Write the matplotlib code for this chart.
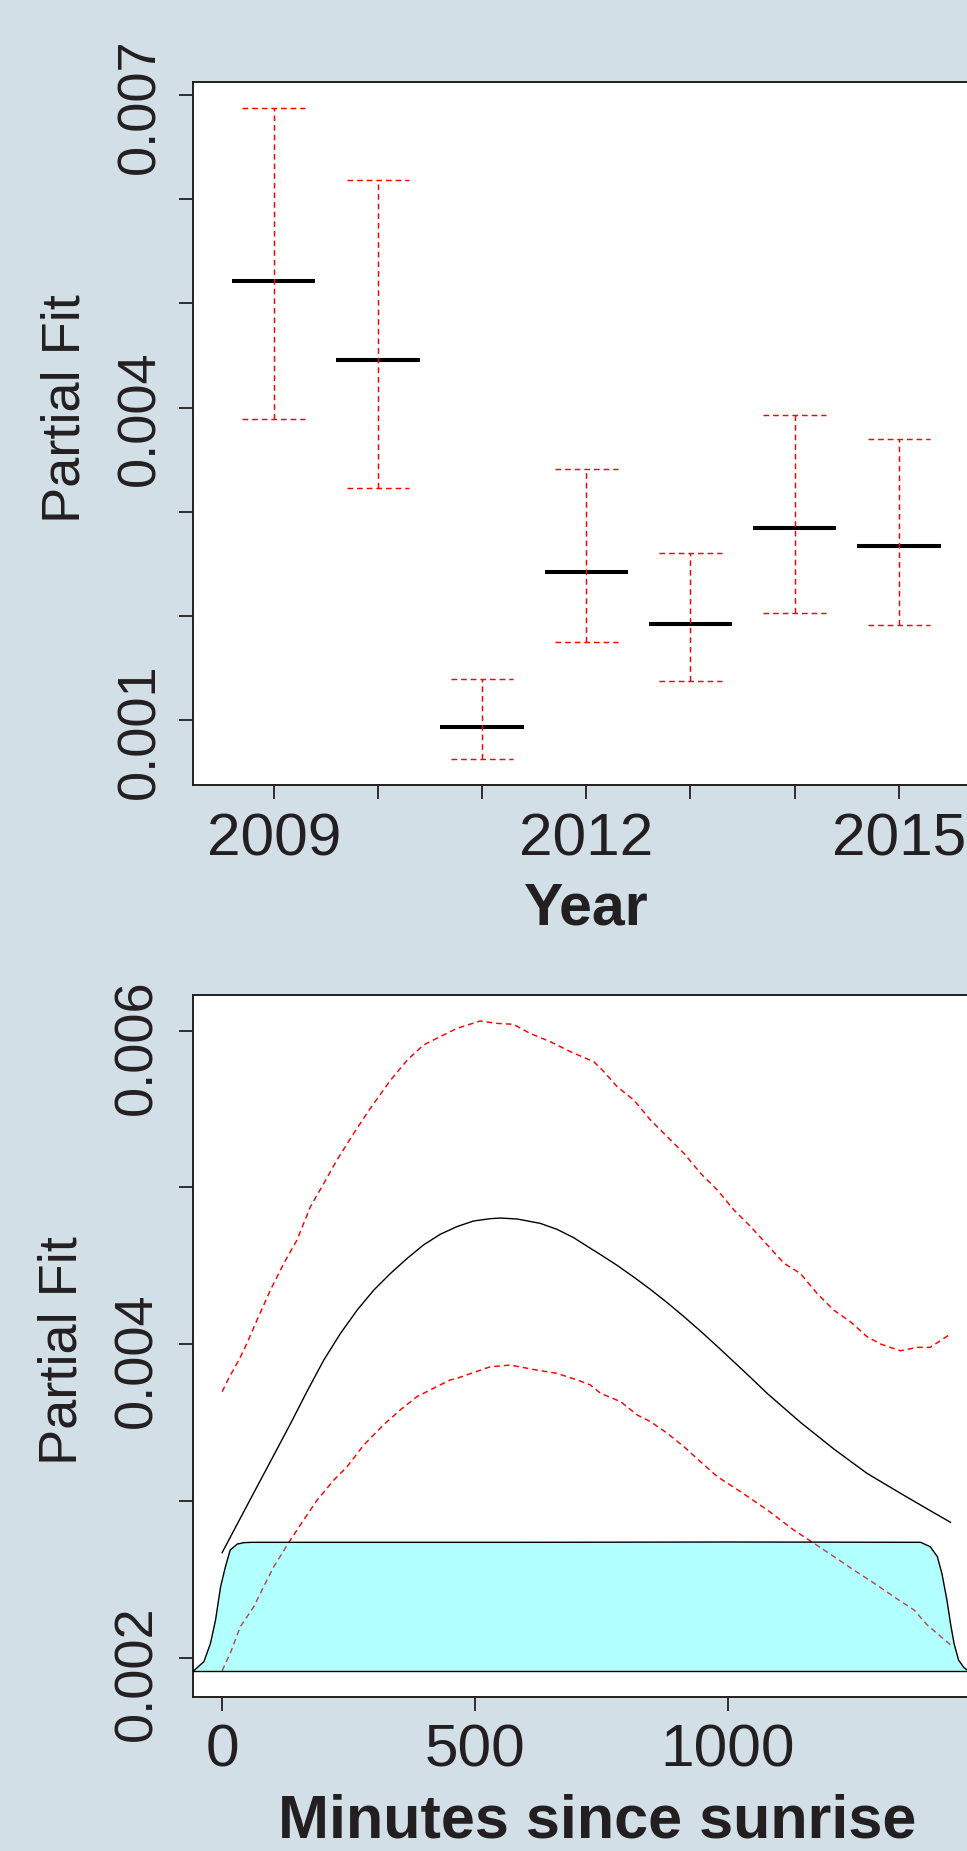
import matplotlib
matplotlib.use("Agg")
import matplotlib.pyplot as plt
from matplotlib.transforms import ScaledTranslation

# ---------------- data ----------------
years = [2009, 2010, 2011, 2012, 2013, 2014, 2015]
year_fit = [0.005212, 0.004457, 0.000934, 0.002424, 0.001922, 0.002844, 0.002673]
year_upper = [0.006878, 0.006184, 0.001397, 0.003407, 0.002606, 0.003926, 0.003699]
year_lower = [0.003891, 0.003230, 0.000625, 0.001745, 0.001370, 0.002027, 0.001911]
year_ticks = [2009, 2010, 2011, 2012, 2013, 2014, 2015]
year_ticklabels = ["2009", "", "", "2012", "", "", "2015"]
top_yticks = [0.001, 0.002, 0.003, 0.004, 0.005, 0.006, 0.007]
top_yticklabels = ["0.001", "", "", "0.004", "", "", "0.007"]

fit_x = [0, 36, 69, 102, 135, 168, 201, 234, 267, 300, 333, 366, 398, 431, 464,
         497, 530, 550, 583, 629, 662, 695, 728, 748, 781, 814, 847, 880, 913,
         946, 979, 1012, 1045, 1078, 1144, 1210, 1275, 1341, 1407, 1440]
fit_y = [0.002670, 0.002890, 0.003091, 0.003291, 0.003492, 0.003700, 0.003899,
         0.004069, 0.004218, 0.004346, 0.004452, 0.004548, 0.004633, 0.004701,
         0.004750, 0.004786, 0.004801, 0.004805, 0.004799, 0.004771, 0.004733,
         0.004680, 0.004612, 0.004572, 0.004503, 0.004428, 0.004349, 0.004265,
         0.004176, 0.004083, 0.003986, 0.003887, 0.003787, 0.003685, 0.003500,
         0.003330, 0.003176, 0.003049, 0.002925, 0.002864]

upper_x = [0, 13, 33, 46, 69, 95.5, 122, 148, 174.5, 201, 227, 260, 293, 333, 366,
           398, 431, 464, 510, 543, 576, 609, 649, 689, 735, 755, 781, 814, 847,
           880, 913, 946, 979, 1012, 1045, 1078, 1111, 1143, 1176, 1209, 1242,
           1275, 1302, 1341, 1374, 1400, 1440]
upper_y = [0.003697, 0.003782, 0.003899, 0.003984, 0.004154, 0.004346, 0.004516,
           0.004665, 0.004877, 0.005026, 0.005175, 0.005345, 0.005505, 0.005685,
           0.005813, 0.005909, 0.005962, 0.006015, 0.006062, 0.006047, 0.006041,
           0.005983, 0.005930, 0.005866, 0.005802, 0.005738, 0.005643, 0.005558,
           0.005430, 0.005324, 0.005218, 0.005090, 0.004984, 0.004856, 0.004750,
           0.004633, 0.004516, 0.004452, 0.004325, 0.004218, 0.004144, 0.004048,
           0.004001, 0.003958, 0.003980, 0.003980, 0.004065]

lower_x = [0, 16, 36, 62.5, 82, 102, 135, 161, 188, 221, 247, 280, 319, 352, 385,
           418, 451, 464, 530, 570, 622, 662, 702, 728, 748, 788, 821, 847, 880,
           913, 946, 979, 1025, 1078, 1130, 1170, 1210, 1249, 1289, 1328, 1368,
           1394, 1440]
lower_y = [0.001917, 0.002028, 0.002198, 0.002325, 0.002453, 0.002580, 0.002751,
           0.002878, 0.003006, 0.003134, 0.003218, 0.003357, 0.003485, 0.003580,
           0.003665, 0.003719, 0.003772, 0.003782, 0.003856, 0.003867, 0.003835,
           0.003814, 0.003772, 0.003740, 0.003687, 0.003633, 0.003548, 0.003506,
           0.003432, 0.003346, 0.003250, 0.003155, 0.003059, 0.002942, 0.002815,
           0.002730, 0.002644, 0.002559, 0.002475, 0.002389, 0.002304, 0.002209,
           0.002082]

dens_base = 0.001913
dens_x = [-120, -80, -56, -36, -23, -13, -3, 6.5, 16, 30, 43, 60, 200, 400, 600,
          800, 1000, 1200, 1381, 1400, 1414, 1423, 1433, 1440, 1447, 1456, 1466,
          1473, 1490, 1530]
dens_y = [0.001913, 0.001914, 0.001917, 0.001975, 0.002092, 0.002241, 0.002453,
          0.002580, 0.002687, 0.002725, 0.002734, 0.002736, 0.002736, 0.002736,
          0.002736, 0.002737, 0.002738, 0.002737, 0.002736, 0.002708, 0.002645,
          0.002538, 0.002368, 0.002219, 0.002092, 0.001985, 0.001939, 0.001921,
          0.001914, 0.001913]

min_ticks = [0, 500, 1000]
min_ticklabels = ["0", "500", "1000"]
bot_yticks = [0.002, 0.003, 0.004, 0.005, 0.006]
bot_yticklabels = ["0.002", "", "0.004", "", "0.006"]

# ---------------- style ----------------
BG = "#d2dfe6"
TXT = "#231f20"
RED = "#ff0000"
FONT = ["Liberation Sans", "DejaVu Sans"]
plt.rcParams["font.family"] = FONT

W, H = 967, 1851
fig = plt.figure(figsize=(W / 100, H / 100), dpi=100, facecolor=BG)

L = 193 / W
AW = (979.6 - 193) / W
ax1 = fig.add_axes([L, 1 - 785 / H, AW, 703 / H])
ax2 = fig.add_axes([L, 1 - 1696.7 / H, AW, 702 / H])

DASH = (0, (3.9, 2.7))

for ax in (ax1, ax2):
    ax.set_facecolor("white")
    for s in ax.spines.values():
        s.set_linewidth(1.4)
        s.set_color("#231f20")
    ax.tick_params(direction="out", length=10.1, width=1.3, colors="#231f20",
                   labelcolor=TXT)

# ---------- top panel ----------
ax1.hlines(year_fit, [y - 0.4 for y in years], [y + 0.4 for y in years],
           color="black", lw=2.9, zorder=3)
ax1.vlines(years, year_lower, year_upper, color=RED, lw=1.05, linestyles=DASH,
           zorder=4)
ax1.hlines(year_upper, [y - 0.3 for y in years], [y + 0.3 for y in years],
           color=RED, lw=1.05, linestyles=DASH, zorder=4)
ax1.hlines(year_lower, [y - 0.3 for y in years], [y + 0.3 for y in years],
           color=RED, lw=1.05, linestyles=DASH, zorder=4)
ax1.set_xlim(2008.2255, 2015.775)
ax1.set_ylim(0.000376, 0.007125)
ax1.set_xticks(year_ticks)
ax1.set_xticklabels(year_ticklabels, fontsize=43.5)
ax1.tick_params(axis="x", pad=10)
ax1.set_yticks(top_yticks)
ax1.set_yticklabels(top_yticklabels, fontsize=39, rotation=90, va="center",
                    ha="right")
ax1.tick_params(axis="y", pad=9.6)
off1 = ScaledTranslation(0, -11 / 100, fig.dpi_scale_trans)
for lab in ax1.get_yticklabels():
    lab.set_transform(lab.get_transform() + off1)
ax1.set_xlabel("Year", fontsize=42.5, fontweight="bold", color=TXT, va="top")
ax1.xaxis.set_label_coords(0.5, -0.1376)
ax1.set_ylabel("Partial Fit", fontsize=39, color=TXT, va="center", ha="center")
ax1.yaxis.set_label_coords(-0.1623, 0.5348)

# ---------- bottom panel ----------
ax2.plot(upper_x, upper_y, color=RED, lw=1.05, linestyle=DASH, zorder=2)
ax2.plot(lower_x, lower_y, color=RED, lw=1.05, linestyle=DASH, zorder=2)
ax2.plot(fit_x, fit_y, color="black", lw=1.0, zorder=3)
ax2.fill_between(dens_x, dens_base, dens_y, facecolor=(0, 1, 1, 0.3),
                 edgecolor="none", zorder=4)
ax2.plot(dens_x, dens_y, color="black", lw=1.0, zorder=5)
ax2.axhline(dens_base, color="black", lw=1.0, zorder=5)
ax2.set_xlim(-57.6, 1497.6)
ax2.set_ylim(0.001751, 0.006230)
ax2.set_xticks(min_ticks)
ax2.set_xticklabels(min_ticklabels, fontsize=43.5)
ax2.tick_params(axis="x", pad=8.9)
ax2.set_yticks(bot_yticks)
ax2.set_yticklabels(bot_yticklabels, fontsize=39, rotation=90, va="center",
                    ha="right")
ax2.tick_params(axis="y", pad=11.9)
off2 = ScaledTranslation(0, -16 / 100, fig.dpi_scale_trans)
for lab in ax2.get_yticklabels():
    lab.set_transform(lab.get_transform() + off2)
ax2.set_xlabel("Minutes since sunrise", fontsize=44, fontweight="bold",
               color=TXT, va="top")
ax2.xaxis.set_label_coords(0.5137, -0.1372)
ax2.set_ylabel("Partial Fit", fontsize=39, color=TXT, va="center", ha="center")
ax2.yaxis.set_label_coords(-0.1655, 0.4925)

fig.savefig("out.png", dpi=100, facecolor=BG)
